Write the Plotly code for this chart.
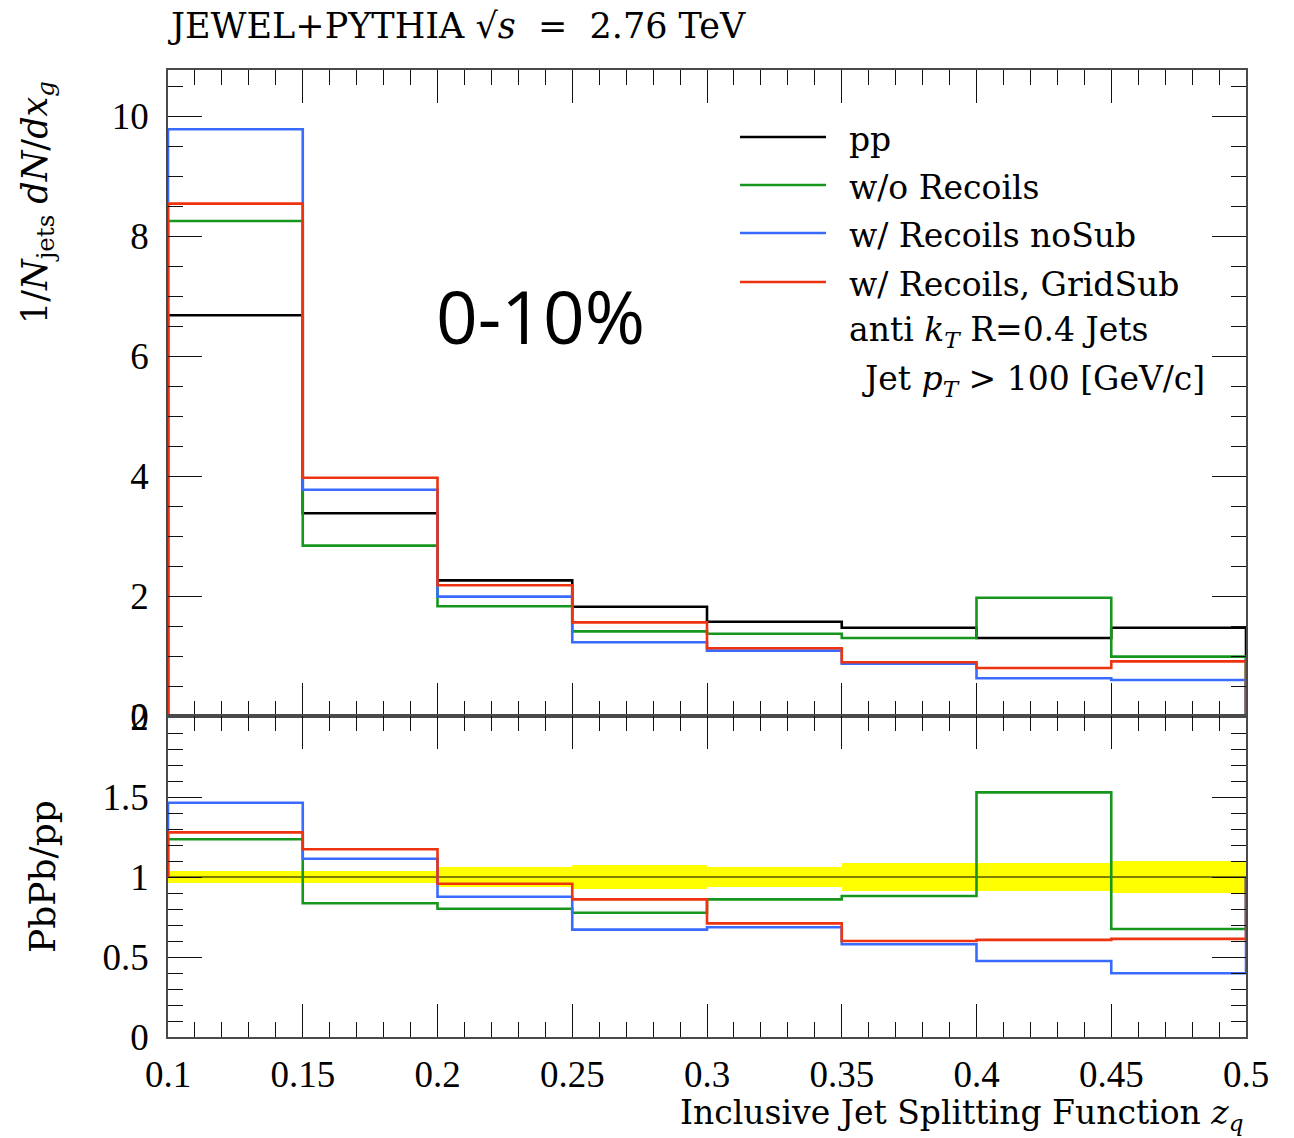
import plotly.graph_objects as go

# ---------------- data ----------------
bin_edges = [0.10, 0.15, 0.20, 0.25, 0.30, 0.35, 0.40, 0.45, 0.50]

pp          = [6.68, 3.38, 2.26, 1.82, 1.57, 1.47, 1.30, 1.47]
wo_recoils  = [8.25, 2.84, 1.83, 1.41, 1.37, 1.30, 1.97, 0.99]
w_nosub     = [9.78, 3.77, 1.99, 1.23, 1.09, 0.87, 0.63, 0.60]
w_gridsub   = [8.54, 3.97, 2.18, 1.56, 1.13, 0.895, 0.80, 0.91]

ratio_wo      = [1.236, 0.836, 0.802, 0.777, 0.86, 0.881, 1.529, 0.675]
ratio_nosub   = [1.464, 1.114, 0.877, 0.671, 0.686, 0.58, 0.475, 0.398]
ratio_gridsub = [1.279, 1.173, 0.958, 0.86, 0.71, 0.60, 0.607, 0.613]
pp_band_err   = [0.0375, 0.0375, 0.06, 0.073, 0.065, 0.09, 0.085, 0.097]

series_names = ["pp", "w/o Recoils", "w/ Recoils noSub", "w/ Recoils, GridSub"]
series_colors = ["#000000", "#16961e", "#3a6bff", "#ee3311"]

xtick_vals = [0.1, 0.15, 0.2, 0.25, 0.3, 0.35, 0.4, 0.45, 0.5]
xtick_text = ["0.1", "0.15", "0.2", "0.25", "0.3", "0.35", "0.4", "0.45", "0.5"]

TICKFONT = "Liberation Serif"
SERIF = "DejaVu Serif"


def step_xy(vals, base):
    xs = [bin_edges[0]] + bin_edges[:-1] + [bin_edges[-1], bin_edges[-1]]
    ys = [base] + list(vals) + [vals[-1], base]
    return xs, ys


fig = go.Figure()

# top panel histograms
for name, vals, col in zip(series_names, [pp, wo_recoils, w_nosub, w_gridsub], series_colors):
    xs, ys = step_xy(vals, 0)
    fig.add_trace(go.Scatter(x=xs, y=ys, mode="lines", line=dict(color=col, width=2.6, shape="hv"),
                             name=name, showlegend=False, xaxis="x", yaxis="y"))

# ratio panel: yellow band
centers = [(a + b) / 2 for a, b in zip(bin_edges[:-1], bin_edges[1:])]
fig.add_trace(go.Bar(x=centers, y=[2 * e for e in pp_band_err], base=[1 - e for e in pp_band_err],
                     width=[b - a for a, b in zip(bin_edges[:-1], bin_edges[1:])],
                     marker=dict(color="#ffff00", line=dict(width=0)), showlegend=False,
                     xaxis="x2", yaxis="y2", hoverinfo="skip"))
fig.add_trace(go.Scatter(x=[bin_edges[0], bin_edges[-1]], y=[1, 1], mode="lines",
                         line=dict(color="black", width=1.2), showlegend=False, xaxis="x2", yaxis="y2"))
for vals, col in zip([ratio_wo, ratio_nosub, ratio_gridsub], series_colors[1:]):
    xs, ys = step_xy(vals, 1)
    fig.add_trace(go.Scatter(x=xs, y=ys, mode="lines", line=dict(color=col, width=2.6, shape="hv"),
                             showlegend=False, xaxis="x2", yaxis="y2"))

L, R, T, B = 168, 48, 70, 101
W, H = 1294, 1138
plot_h = H - T - B
split = (1037 - 716) / plot_h

axis_common = dict(ticks="inside", mirror="ticks", showline=True, linecolor="#4a4a4a", linewidth=1.5,
                   tickcolor="#111111", tickwidth=1.3, showgrid=False, zeroline=False,
                   tickfont=dict(family=TICKFONT, size=37, color="black"))
minor_common = dict(ticks="inside", tickcolor="#111111", tickwidth=1.2, ticklen=15)

fig.update_layout(
    width=W, height=H, margin=dict(l=L, r=R, t=T, b=B),
    paper_bgcolor="white", plot_bgcolor="white", bargap=0,
    xaxis=dict(axis_common, domain=[0, 1], range=[0.1, 0.5], anchor="y", tickvals=xtick_vals,
               ticklen=33, showticklabels=False, minor=dict(minor_common, dtick=0.01, tick0=0.1)),
    yaxis=dict(axis_common, domain=[split, 1], range=[0, (716 - 70) / 60], anchor="x", dtick=2, tick0=0,
               ticklen=34, ticklabelstandoff=10, minor=dict(minor_common, dtick=0.5, tick0=0)),
    xaxis2=dict(axis_common, domain=[0, 1], range=[0.1, 0.5], anchor="y2", tickvals=xtick_vals,
                ticktext=xtick_text, ticklen=33, ticklabelstandoff=4,
                minor=dict(minor_common, dtick=0.01, tick0=0.1)),
    yaxis2=dict(axis_common, domain=[0, split], range=[0, (1037 - 716) / 160], anchor="x2", dtick=0.5, tick0=0,
                ticklen=34, ticklabelstandoff=10, minor=dict(minor_common, dtick=0.1, tick0=0)),
)


def px(xp):
    return (xp - L) / (W - L - R)


def py(yp):
    return (H - B - yp) / plot_h


ann = []
ann.append(dict(x=px(166), y=py(26), xref="paper", yref="paper", xanchor="left", yanchor="middle",
                text="JEWEL+PYTHIA √<i>s</i>&nbsp; = &nbsp;2.76 TeV", showarrow=False,
                font=dict(family=SERIF, size=35, color="black")))
ann.append(dict(x=px(38), y=py(203), xref="paper", yref="paper", xanchor="center", yanchor="middle",
                textangle=-90, text="1/<i>N</i><sub>jets</sub> <i>dN</i>/<i>dx</i><sub><i>g</i></sub>",
                showarrow=False, font=dict(family=SERIF, size=35, color="black")))
ann.append(dict(x=px(42), y=py(877), xref="paper", yref="paper", xanchor="center", yanchor="middle",
                textangle=-90, text="PbPb/pp", showarrow=False,
                font=dict(family=SERIF, size=36, color="black")))
ann.append(dict(x=1, y=py(1114), xref="paper", yref="paper", xanchor="right", yanchor="middle",
                text="Inclusive Jet Splitting Function <i>z</i><sub><i>q</i></sub>", showarrow=False,
                font=dict(family=SERIF, size=33, color="black")))
ann.append(dict(x=px(540), y=py(315), xref="paper", yref="paper", xanchor="center", yanchor="middle",
                text="0-10%", showarrow=False, font=dict(family="Open Sans", size=73, color="black")))

legend_ys = [137, 185, 233, 282]
shapes = []
for name, col, ly in zip(series_names, series_colors, legend_ys):
    shapes.append(dict(type="line", xref="paper", yref="paper", x0=px(740), x1=px(826), y0=py(ly), y1=py(ly),
                       line=dict(color=col, width=2.6)))
    ann.append(dict(x=px(847), y=py(ly + 2), xref="paper", yref="paper", xanchor="left", yanchor="middle",
                    text=name, showarrow=False, font=dict(family=SERIF, size=33, color="black")))
ann.append(dict(x=px(847), y=py(331), xref="paper", yref="paper", xanchor="left", yanchor="middle",
                text="anti <i>k</i><sub><i>T</i></sub> R=0.4 Jets", showarrow=False,
                font=dict(family=SERIF, size=33, color="black")))
ann.append(dict(x=px(860), y=py(380), xref="paper", yref="paper", xanchor="left", yanchor="middle",
                text="Jet <i>p</i><sub><i>T</i></sub> &gt; 100 [GeV/c]", showarrow=False,
                font=dict(family=SERIF, size=33, color="black")))

fig.update_layout(annotations=ann, shapes=shapes)

fig.write_html("out.html")
